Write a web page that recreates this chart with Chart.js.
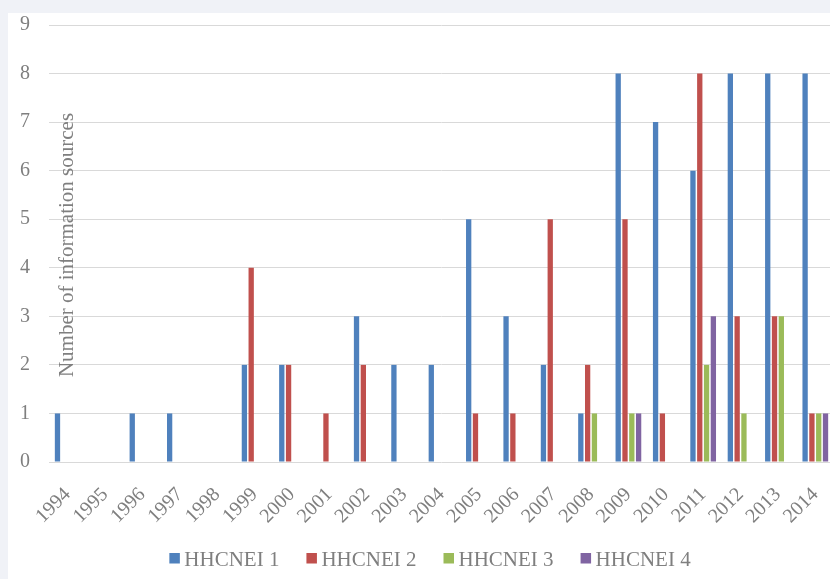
<!DOCTYPE html>
<html>
<head>
<meta charset="utf-8">
<script src="https://cdn.jsdelivr.net/npm/chart.js@4/dist/chart.umd.min.js"></script>
<style>
  html, body { margin: 0; padding: 0; background: #f0f2f7; overflow: hidden; width: 830px; height: 579px; }
  #wrap { position: absolute; left: 8px; top: 13px; width: 826px; height: 566px; background: #ffffff; }
  canvas { display: block; }
</style>
</head>
<body>
<div id="wrap"><canvas id="c" width="826" height="566"></canvas></div>
<script>
// Publication years
const years = ['1994','1995','1996','1997','1998','1999','2000','2001','2002','2003','2004',
               '2005','2006','2007','2008','2009','2010','2011','2012','2013','2014'];

// Number of information sources per year, one list per index
const hhcnei1 = [1,0,1,1,0,2,2,0,3,2,2,5,3,2,1,8,7,6,8,8,8];
const hhcnei2 = [0,0,0,0,0,4,2,1,2,0,0,1,1,5,2,5,1,8,3,3,1];
const hhcnei3 = [0,0,0,0,0,0,0,0,0,0,0,0,0,0,1,1,0,2,1,3,1];
const hhcnei4 = [0,0,0,0,0,0,0,0,0,0,0,0,0,0,0,1,0,3,0,0,1];

const seriesNames = ['HHCNEI 1','HHCNEI 2','HHCNEI 3','HHCNEI 4'];
const seriesColors = ['#4f81bd','#c0504d','#9bbb59','#8064a2'];

const yTicks = [0,1,2,3,4,5,6,7,8,9];
const yTitle = 'Number of information sources';

const serif = '"Liberation Serif", "Times New Roman", serif';
const textGray = '#7f7f7f';

// Rotated axis title drawn inside the plot, and a centred legend row at the bottom
const overlay = {
  id: 'overlay',
  afterDraw(chart) {
    const ctx = chart.ctx;
    ctx.save();
    ctx.fillStyle = textGray;
    ctx.font = '21px ' + serif;
    ctx.translate(64.5, 232);
    ctx.rotate(-Math.PI / 2);
    ctx.textAlign = 'center';
    ctx.textBaseline = 'alphabetic';
    ctx.fillText(yTitle, 0, 0);
    ctx.restore();

    ctx.save();
    ctx.font = '21px ' + serif;
    const box = 10.5, gapText = 4.5, gapItem = 27;
    const items = chart.data.datasets.map(d => ({
      label: d.label, color: d.backgroundColor, w: ctx.measureText(d.label).width
    }));
    let total = 0;
    items.forEach((it, i) => { total += box + gapText + it.w + (i < items.length - 1 ? gapItem : 0); });
    let x = chart.width / 2 + 9 - total / 2;
    const boxTop = 540;
    ctx.textBaseline = 'alphabetic';
    ctx.textAlign = 'left';
    items.forEach(it => {
      ctx.fillStyle = it.color;
      ctx.fillRect(x, boxTop, box, box);
      ctx.fillStyle = textGray;
      ctx.fillText(it.label, x + box + gapText, 553);
      x += box + gapText + it.w + gapItem;
    });
    ctx.restore();
  }
};

const datasets = [hhcnei1, hhcnei2, hhcnei3, hhcnei4].map((vals, i) => ({
  label: seriesNames[i],
  data: vals,
  backgroundColor: seriesColors[i],
  borderWidth: 0,
  categoryPercentage: 0.728,
  barPercentage: 0.78
}));

new Chart(document.getElementById('c'), {
  type: 'bar',
  data: { labels: years, datasets },
  plugins: [overlay],
  options: {
    responsive: false,
    animation: false,
    layout: { padding: { top: 12, right: 0, bottom: 0, left: 0 } },
    plugins: { legend: { display: false }, tooltip: { enabled: false } },
    scales: {
      x: {
        grid: { display: false, drawTicks: false },
        border: { display: false },
        ticks: {
          autoSkip: false, minRotation: 45, maxRotation: 45,
          color: textGray, font: { family: serif, size: 20 }, padding: 21
        },
        afterFit(scale) {
          scale.height = 117;
          scale.paddingLeft = 0; scale.paddingRight = 0;
          scale.paddingTop = 0; scale.paddingBottom = 0;
        }
      },
      y: {
        min: 0, max: 9,
        grid: { color: '#d9d9d9', lineWidth: 1, drawTicks: false },
        border: { display: false },
        afterBuildTicks(scale) { scale.ticks = yTicks.map(v => ({ value: v })); },
        ticks: { color: textGray, font: { family: serif, size: 20 }, padding: 19 },
        afterFit(scale) {
          scale.width = 41;
          scale.paddingLeft = 0; scale.paddingRight = 0;
          scale.paddingTop = 0; scale.paddingBottom = 0;
        }
      }
    }
  }
});
</script>
</body>
</html>
